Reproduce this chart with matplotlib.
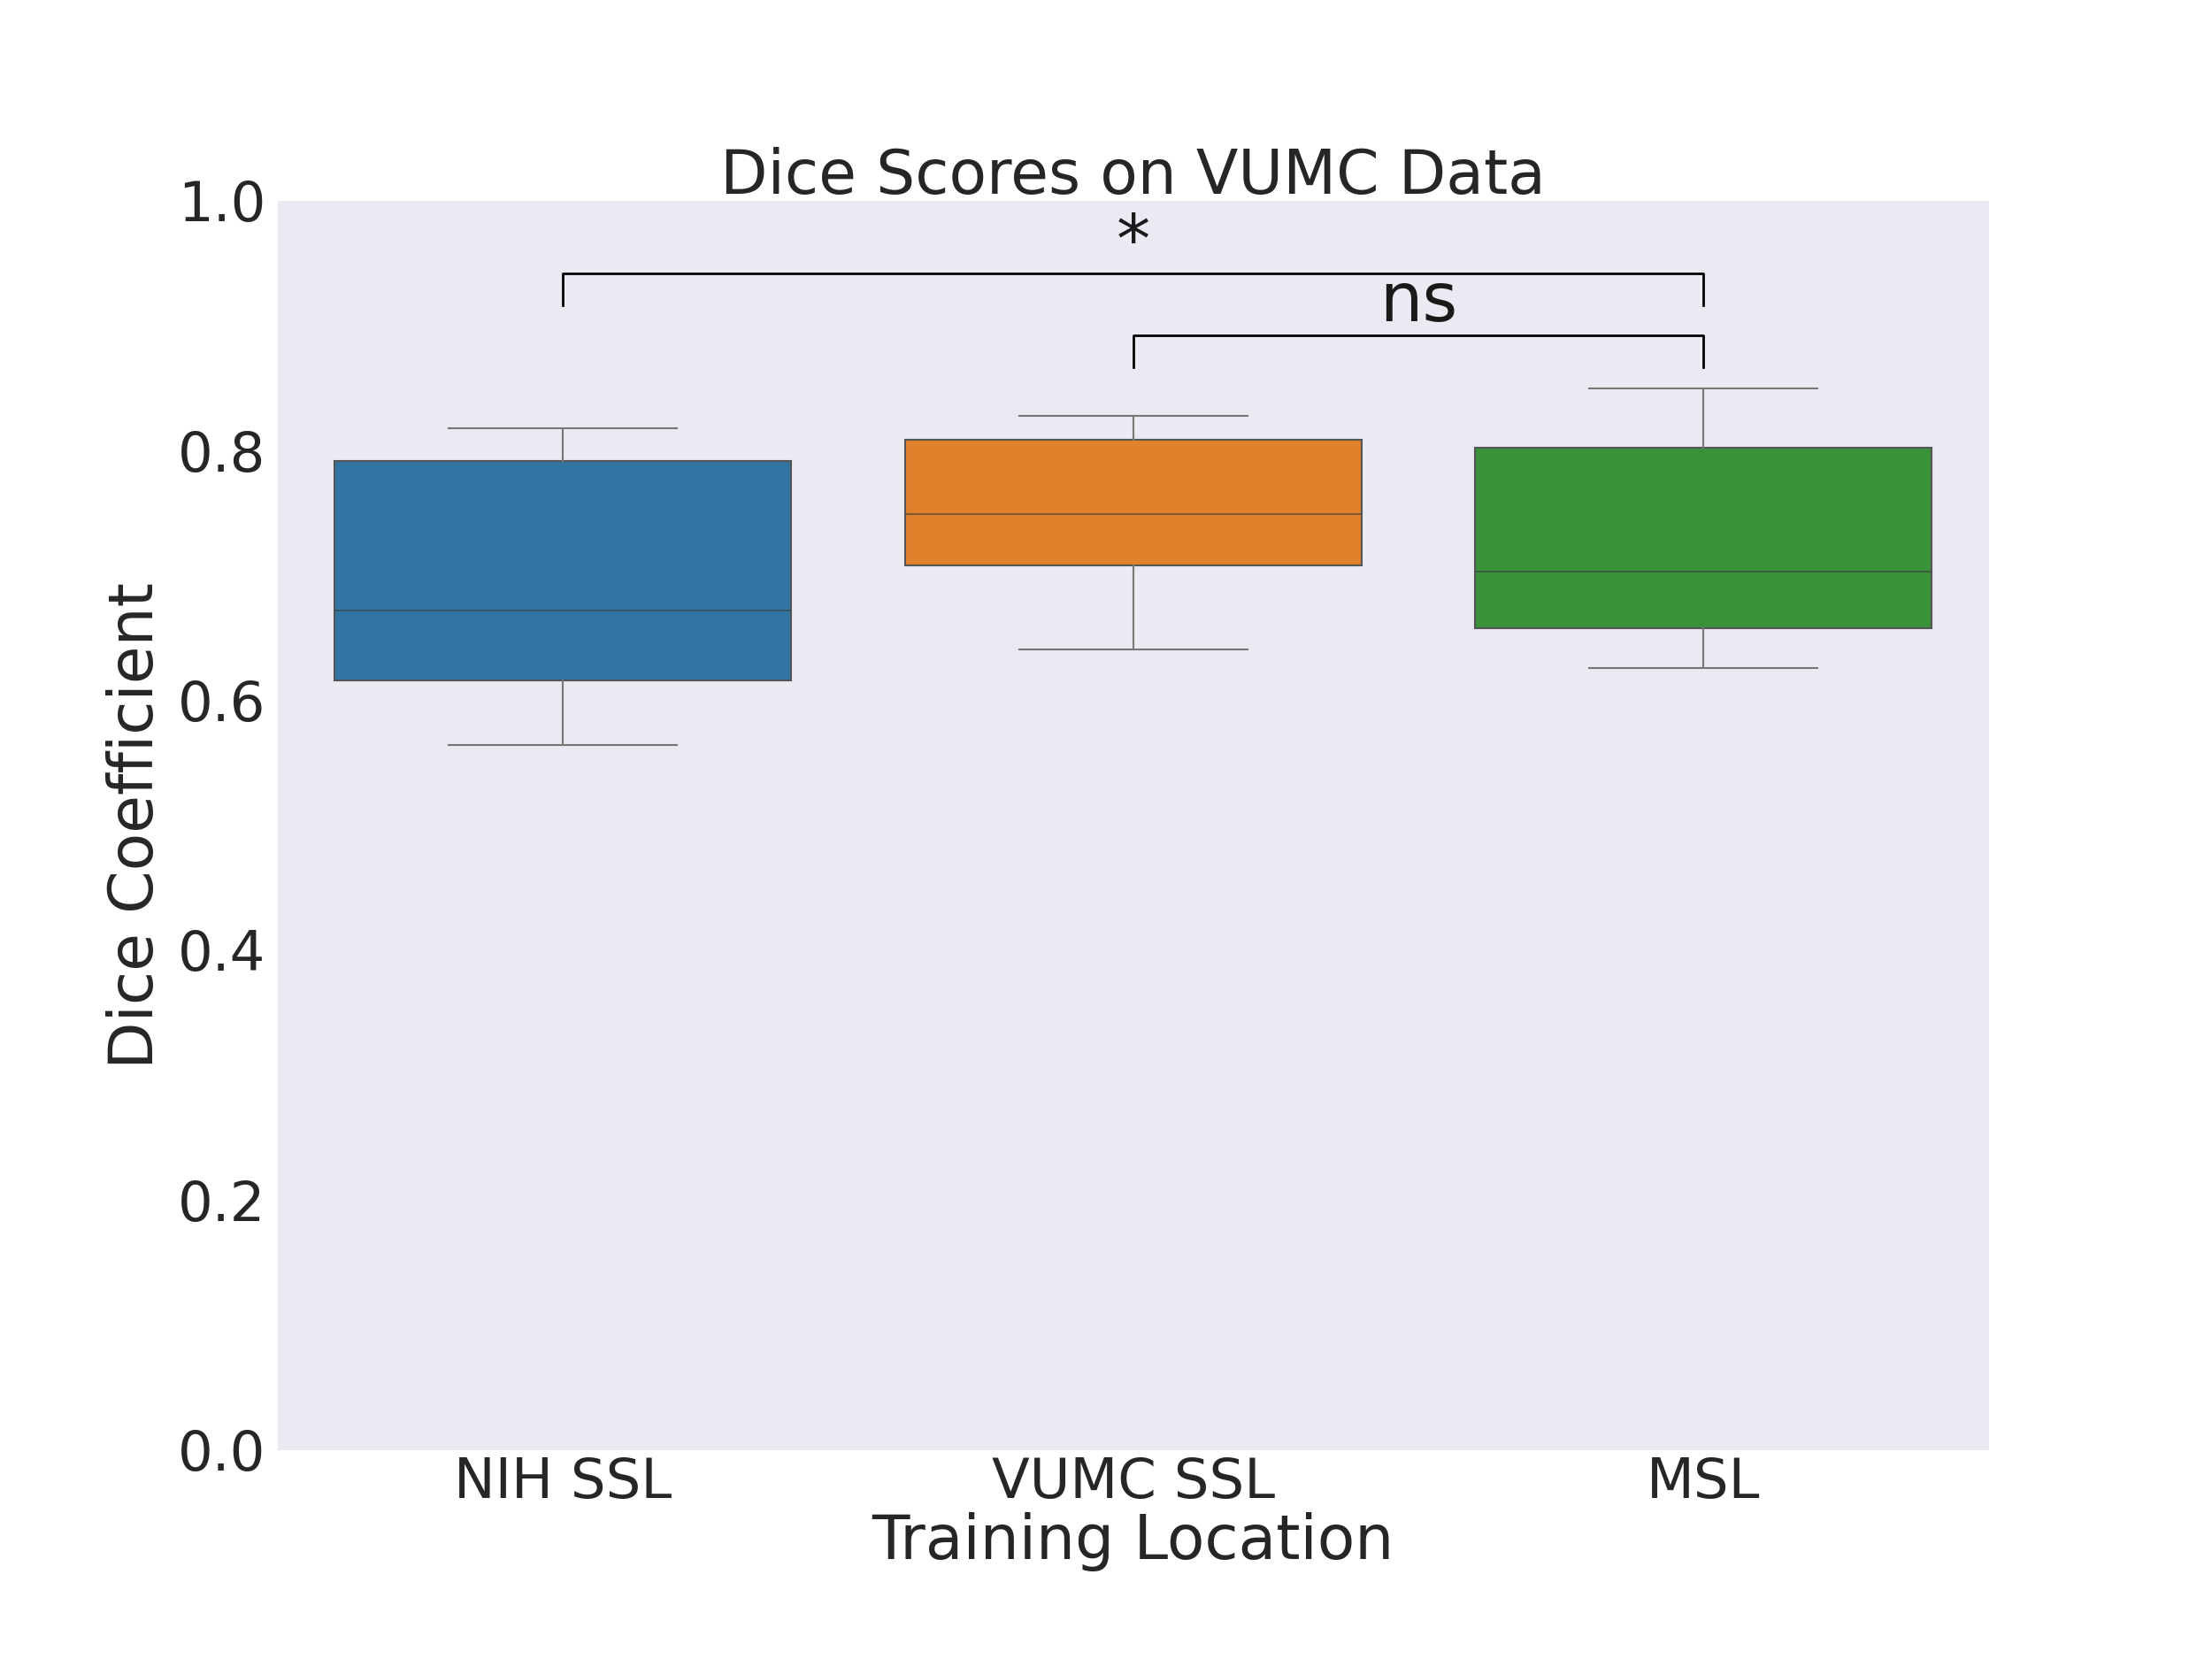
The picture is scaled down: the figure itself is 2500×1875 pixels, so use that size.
import matplotlib
matplotlib.use("Agg")
import matplotlib.pyplot as plt

# values
locations = ["NIH SSL", "VUMC SSL", "MSL"]
whisker_low = [0.564, 0.641, 0.626]
q1 = [0.616, 0.708, 0.658]
median = [0.672, 0.749, 0.703]
q3 = [0.792, 0.809, 0.802]
whisker_high = [0.818, 0.828, 0.850]
box_colors = ["#3274a1", "#e1812c", "#3a923a"]

# significance brackets: (left group, right group, bracket y, leg drop, label)
pairs = [(0, 2, 0.942, 0.026, "*"), (1, 2, 0.892, 0.025, "ns")]

fig = plt.figure(figsize=(10, 7.5), dpi=250)
ax = fig.add_axes([0.1256, 0.126, 0.7734, 0.753])
ax.set_facecolor("#eaeaf2")
for s in ax.spines.values():
    s.set_visible(False)

stats = []
for i in range(len(locations)):
    stats.append({"label": locations[i], "whislo": whisker_low[i], "q1": q1[i],
                  "med": median[i], "q3": q3[i], "whishi": whisker_high[i], "fliers": []})

bp = ax.bxp(stats, positions=range(len(locations)), widths=0.8, capwidths=0.4,
            patch_artist=True, showfliers=False,
            boxprops=dict(linewidth=0.6, edgecolor="#555555"),
            whiskerprops=dict(linewidth=0.6, color="#777777"),
            capprops=dict(linewidth=0.6, color="#777777"),
            medianprops=dict(linewidth=0.6, color="#3d3d3d"))
for patch, c in zip(bp["boxes"], box_colors):
    patch.set_facecolor(c)
for med_line in bp["medians"]:
    med_line.set_alpha(0.6)

for a, b, y, drop, label in pairs:
    ax.plot([a, a, b, b], [y - drop, y, y, y - drop], color="black", lw=0.8)
    off = -0.003 if label == "*" else 0.0005
    ax.text((a + b) / 2, y + off, label, ha="center", va="bottom", fontsize=22, color="#1a1a1a")

ax.set_xlim(-0.5, 2.5)
ax.set_ylim(0, 1.0)
ax.set_yticks([0, 0.2, 0.4, 0.6, 0.8, 1.0])
ax.tick_params(axis="y", length=0, labelsize=18, colors="#262626", pad=4)
ax.tick_params(axis="x", length=0, labelsize=18, colors="#262626", pad=2)
ax.set_xticks(range(len(locations)))
ax.set_xticklabels(locations)
ax.set_xlabel("Training Location", fontsize=20, color="#262626", labelpad=1)
ax.set_ylabel("Dice Coefficient", fontsize=20, color="#262626")
ax.set_title("Dice Scores on VUMC Data", fontsize=20, color="#262626", y=1.003, pad=1)

fig.savefig("out.png", dpi=250)
